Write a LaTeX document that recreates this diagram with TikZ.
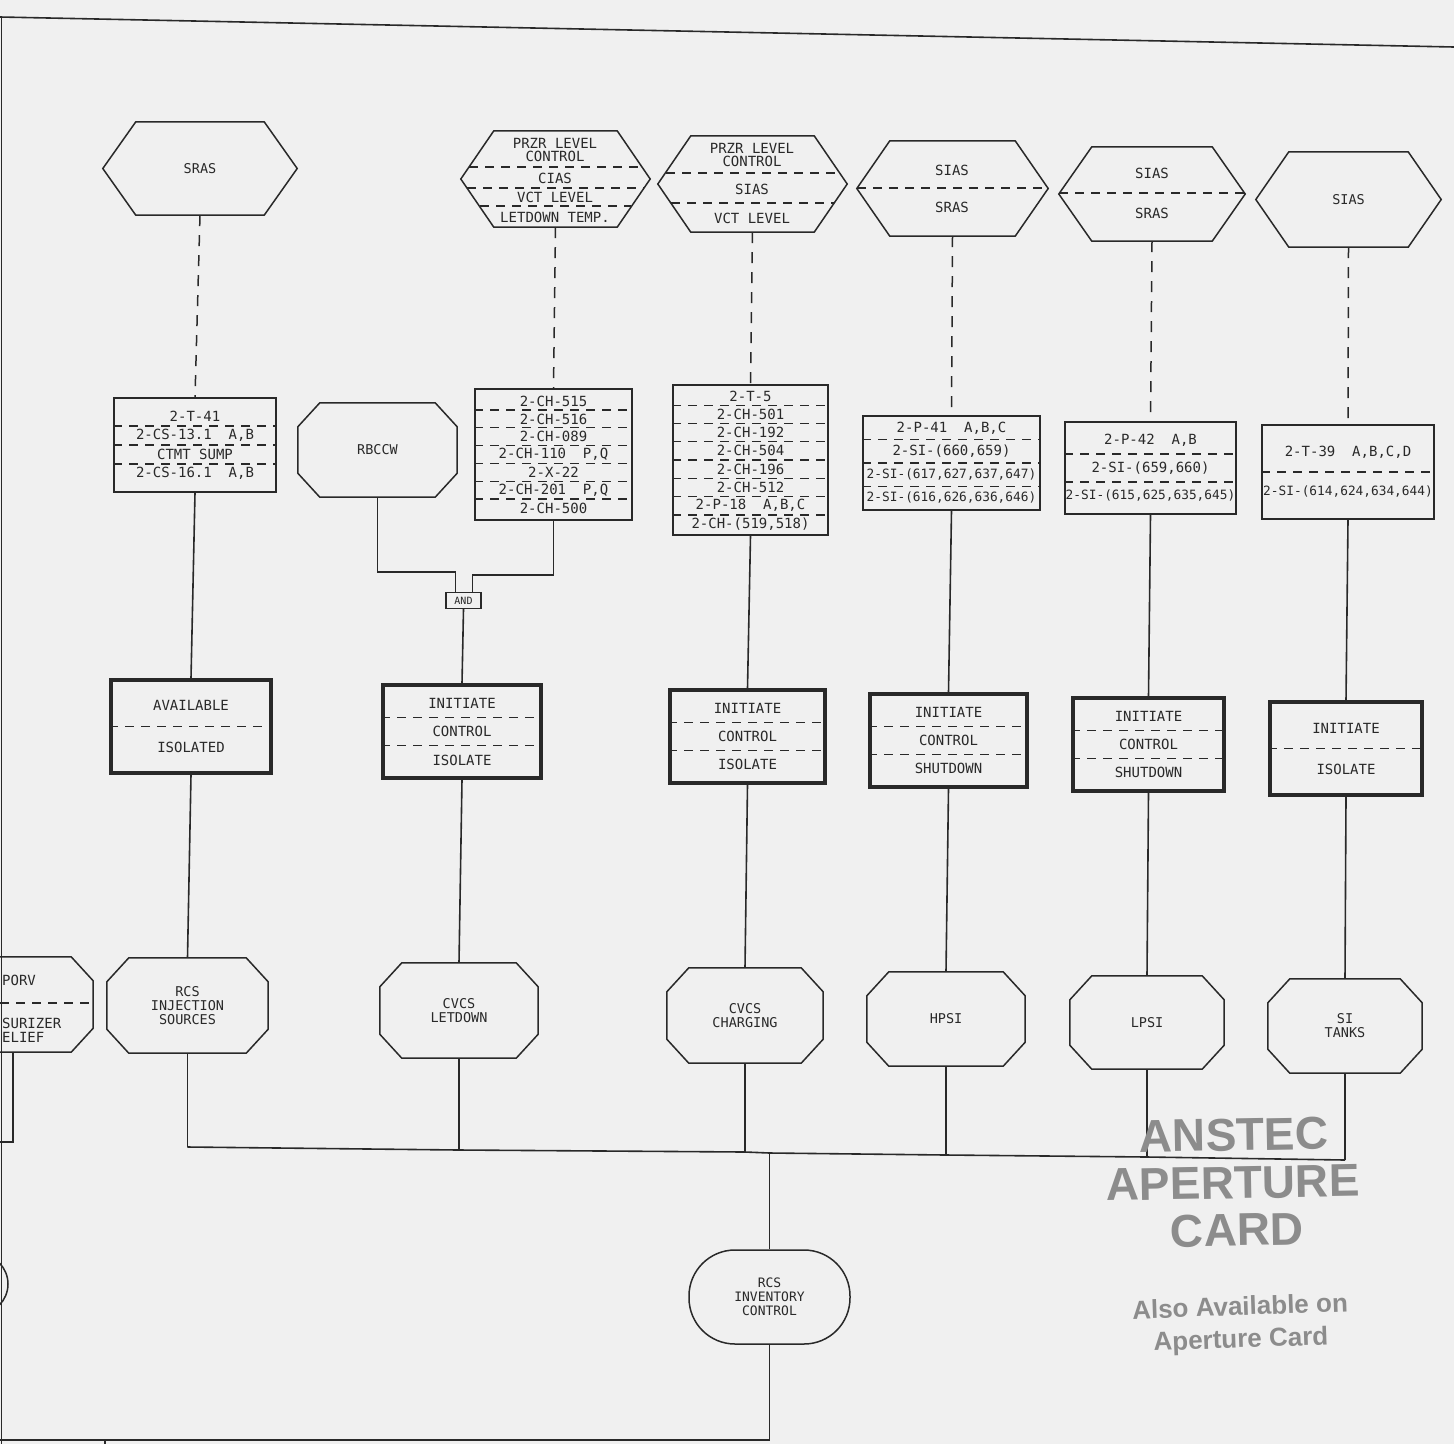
\documentclass[tikz,border=0pt]{standalone}
\usepackage{fontspec}
\setmainfont{Liberation Sans}
\setmonofont{DejaVu Sans Mono}
\usetikzlibrary{calc}
\definecolor{ink}{gray}{0.16}
\definecolor{paper}{gray}{0.94}
\definecolor{wm}{gray}{0.55}
\newcommand\narrowrow{\fontsize{12.8}{13}\selectfont}
\tikzset{
  ln/.style={draw=ink, line width=1.6pt},
  dln/.style={draw=ink, line width=1.5pt, dash pattern=on 11pt off 9pt},
  sepline/.style={draw=ink, line width=1.2pt, dash pattern=on 9pt off 7pt},
  ghost/.style={rectangle, inner sep=0pt, draw=none, font=\ttfamily\fontsize{13.5}{14}\selectfont, text=ink, align=center},
  frame/.style={rectangle, inner sep=0pt, draw=ink, line width=1.5pt},
  thickframe/.style={rectangle, inner sep=0pt, draw=ink, line width=3.2pt},
  lbl/.style={font=\ttfamily\fontsize{14}{13}\selectfont, text=ink, inner sep=0pt, align=center},
  stadium/.style={rectangle, rounded corners=46pt, draw=ink, line width=1.5pt, inner sep=0pt, align=center, font=\ttfamily\fontsize{13}{14}\selectfont, text=ink},
  wmbig/.style={font=\bfseries\fontsize{46}{46}\selectfont, text=wm, inner sep=0pt},
  wmsmall/.style={font=\bfseries\fontsize{26}{26}\selectfont, text=wm, inner sep=0pt},
}
\newcommand\hexout[2]{\draw[ln, line width=1.5pt] (#1.west) -- ([xshift=#2]#1.north west) -- ([xshift=-#2]#1.north east) -- (#1.east) -- ([xshift=-#2]#1.south east) -- ([xshift=#2]#1.south west) -- cycle;}
\newcommand\octout[3]{\draw[ln, line width=1.5pt] ([xshift=#2]#1.north west) -- ([xshift=-#2]#1.north east) -- ([yshift=-#3]#1.north east) -- ([yshift=#3]#1.south east) -- ([xshift=-#2]#1.south east) -- ([xshift=#2]#1.south west) -- ([yshift=#3]#1.south west) -- ([yshift=-#3]#1.north west) -- cycle;}
\newcommand\rowsin[4]{%
  \foreach \lbltext [count=\ri] in {#4}{%
    \node[lbl] (#1-\ri) at ([yshift={-(\ri-(#2+1)/2)*#3}]#1.center) {\lbltext};
  }%
  \pgfmathtruncatemacro\nsep{#2-1}%
  \foreach \k in {1,...,\nsep}{%
    \draw[sepline] ([yshift={-(\k-#2/2)*#3}]#1.west) -- ([yshift={-(\k-#2/2)*#3}]#1.east);
  }%
}
\begin{document}
\begin{tikzpicture}[x=1pt,y=-1pt]
\useasboundingbox (0,0) rectangle (1454,1444);
\fill[paper] (0,0) rectangle (1454,1444);
\clip (0,0) rectangle (1454,1444);

% border
\coordinate (tl) at (0,17);
\coordinate (tr) at (1454,47);
\coordinate (lt) at (1.5,17);
\coordinate (lb) at (1.5,1444);
\draw[ln] (tl) -- (tr);
\draw[ln] (lt) -- (lb);

% top hexagons
\node[ghost, minimum width=194pt, minimum height=93pt] (h1) at (200,168.5) {SRAS};
\hexout{h1}{33}
\node[ghost, minimum width=189pt, minimum height=96pt] (h2) at (555.5,179) {};
\hexout{h2}{33}
\node[lbl] (h2-1) at (555,150) {PRZR LEVEL\\CONTROL};
\node[lbl] (h2-2) at (555,178) {CIAS};
\node[lbl] (h2-3) at (555,197) {VCT LEVEL};
\node[lbl] (h2-4) at (555,217) {LETDOWN TEMP.};
\draw[sepline] (469,167) -- (642,167);
\draw[sepline] (467,188) -- (644,188);
\draw[sepline] (480,206) -- (631,206);
\node[ghost, minimum width=189pt, minimum height=96pt] (h3) at (752.5,184) {};
\hexout{h3}{33}
\node[lbl] (h3-1) at (752,155) {PRZR LEVEL\\CONTROL};
\node[lbl] (h3-2) at (752,189) {SIAS};
\node[lbl] (h3-3) at (752,218) {VCT LEVEL};
\draw[sepline] (666,173) -- (839,173);
\draw[sepline] (671,203) -- (834,203);
\node[ghost, minimum width=191pt, minimum height=95pt] (h4) at (952.5,188.5) {};
\hexout{h4}{33}
\node[lbl] (h4-1) at (952,170) {SIAS};
\node[lbl] (h4-2) at (952,207) {SRAS};
\draw[sepline] (857,188) -- (1048,188);
\node[ghost, minimum width=186pt, minimum height=94pt] (h5) at (1152,194) {};
\hexout{h5}{33}
\node[lbl] (h5-1) at (1152,173) {SIAS};
\node[lbl] (h5-2) at (1152,213) {SRAS};
\draw[sepline] (1059,193) -- (1245,193);
\node[ghost, minimum width=185pt, minimum height=95pt] (h6) at (1348.5,199.5) {SIAS};
\hexout{h6}{33}

% middle component boxes
\node[frame, minimum width=162pt, minimum height=94pt] (b1) at (195,445) {};
\rowsin{b1}{4}{19}{2-T-41,{2-CS-13.1~~A,B},CTMT SUMP,{2-CS-16.1~~A,B}}
\node[ghost, minimum width=159pt, minimum height=94pt] (rb) at (377.5,450) {RBCCW};
\octout{rb}{22}{24}
\node[frame, minimum width=157pt, minimum height=131pt] (b3) at (553.5,454.5) {};
\rowsin{b3}{7}{17.8}{2-CH-515,2-CH-516,2-CH-089,{2-CH-110~~P,Q},2-X-22,{2-CH-201~~P,Q},2-CH-500}
\node[frame, minimum width=155pt, minimum height=150pt] (b4) at (750.5,460) {};
\rowsin{b4}{8}{18.3}{2-T-5,2-CH-501,2-CH-192,2-CH-504,2-CH-196,2-CH-512,{2-P-18~~A,B,C},{2-CH-(519,518)}}
\node[frame, minimum width=177pt, minimum height=94pt] (b5) at (951.5,463) {};
\rowsin{b5}{4}{23.3}{{2-P-41~~A,B,C},{2-SI-(660,659)},{\narrowrow 2-SI-(617,627,637,647)},{\narrowrow 2-SI-(616,626,636,646)}}
\node[frame, minimum width=171pt, minimum height=92pt] (b6) at (1150.5,468) {};
\rowsin{b6}{3}{28}{{2-P-42~~A,B},{2-SI-(659,660)},{\narrowrow 2-SI-(615,625,635,645)}}
\node[frame, minimum width=172pt, minimum height=94pt] (b7) at (1348,472) {};
\rowsin{b7}{2}{39}{{2-T-39~~A,B,C,D},{\narrowrow 2-SI-(614,624,634,644)}}

% AND gate
\node[frame, line width=1.2pt, minimum width=35pt, minimum height=16pt, font=\ttfamily\fontsize{10}{10}\selectfont, text=ink] (and) at (463.5,600.5) {AND};

% action boxes
\node[thickframe, minimum width=160pt, minimum height=93pt] (a1) at (191,726.5) {};
\rowsin{a1}{2}{42}{AVAILABLE,ISOLATED}
\node[thickframe, minimum width=158pt, minimum height=93pt] (a3) at (462,731.5) {};
\rowsin{a3}{3}{28.5}{INITIATE,CONTROL,ISOLATE}
\node[thickframe, minimum width=155pt, minimum height=93pt] (a4) at (747.5,736.5) {};
\rowsin{a4}{3}{28}{INITIATE,CONTROL,ISOLATE}
\node[thickframe, minimum width=157pt, minimum height=93pt] (a5) at (948.5,740.5) {};
\rowsin{a5}{3}{28}{INITIATE,CONTROL,SHUTDOWN}
\node[thickframe, minimum width=151pt, minimum height=93pt] (a6) at (1148.5,744.5) {};
\rowsin{a6}{3}{28}{INITIATE,CONTROL,SHUTDOWN}
\node[thickframe, minimum width=152pt, minimum height=93pt] (a7) at (1346,748.5) {};
\rowsin{a7}{2}{41}{INITIATE,ISOLATE}

% bottom systems
\node[ghost, minimum width=160pt, minimum height=95pt] (porv) at (13,1004.5) {};
\octout{porv}{22}{24}
\node[lbl, anchor=west] (porv-1) at (2,980) {PORV};
\node[lbl, anchor=west] (porv-2) at (2,1023) {SURIZER};
\node[lbl, anchor=west] (porv-3) at (2,1037) {ELIEF};
\draw[sepline] (0,1003) -- (90,1003);
\node[ghost, minimum width=161pt, minimum height=95pt] (o1) at (187.5,1005.5) {RCS\\INJECTION\\SOURCES};
\octout{o1}{22}{24}
\node[ghost, minimum width=158pt, minimum height=95pt] (o3) at (459,1010.5) {CVCS\\LETDOWN};
\octout{o3}{22}{24}
\node[ghost, minimum width=156pt, minimum height=95pt] (o4) at (745,1015.5) {CVCS\\CHARGING};
\octout{o4}{22}{24}
\node[ghost, minimum width=158pt, minimum height=94pt] (o5) at (946,1019) {HPSI};
\octout{o5}{22}{24}
\node[ghost, minimum width=154pt, minimum height=93pt] (o6) at (1147,1022.5) {LPSI};
\octout{o6}{22}{24}
\node[ghost, minimum width=154pt, minimum height=94pt] (o7) at (1345,1026) {SI\\TANKS};
\octout{o7}{22}{24}

\node[stadium, minimum width=161pt, minimum height=94pt] (rcs) at (769.5,1297) {RCS\\INVENTORY\\CONTROL};

% partial node at left edge
\node[ghost, circle, minimum size=60pt] (lc) at (-22,1284) {};
\draw[ln, line width=1.5pt] (lc) circle[radius=30pt];

% dashed signal connectors
\draw[dln] (h1.south) -- (b1.north);
\draw[dln] (h2.south) -- (b3.north);
\draw[dln] (h3.south) -- (b4.north);
\draw[dln] (h4.south) -- (b5.north);
\draw[dln] (h5.south) -- (b6.north);
\draw[dln] (h6.south) -- (b7.north);

% AND logic
\draw[ln] (rb.south) |- ([xshift=-8pt,yshift=20pt]and.north) -- ([xshift=-8pt]and.north);
\draw[ln] (b3.south) |- ([xshift=9pt,yshift=17pt]and.north) -- ([xshift=9pt]and.north);
\draw[ln] (and.south) -- (a3.north);

% components to actions
\draw[ln] (b1.south) -- (a1.north);
\draw[ln] (b4.south) -- (a4.north);
\draw[ln] (b5.south) -- (a5.north);
\draw[ln] (b6.south) -- (a6.north);
\draw[ln] (b7.south) -- (a7.north);

% actions to systems
\draw[ln] (a1.south) -- (o1.north);
\draw[ln] (a3.south) -- (o3.north);
\draw[ln] (a4.south) -- (o4.north);
\draw[ln] (a5.south) -- (o5.north);
\draw[ln] (a6.south) -- (o6.north);
\draw[ln] (a7.south) -- (o7.north);

% bus
\coordinate (j1) at (o1.south |- 0,1147);
\coordinate (j3) at (o3.south |- 0,1150);
\coordinate (j4) at (o4.south |- 0,1152);
\coordinate (jc) at (rcs.north |- 0,1153);
\coordinate (j5) at (o5.south |- 0,1155);
\coordinate (j6) at (o6.south |- 0,1157);
\coordinate (j7) at (o7.south |- 0,1160);
\draw[ln] (j1) -- (j3) -- (j4) -- (jc) -- (j5) -- (j6) -- (j7);
\draw[ln] (o1.south) -- (j1);
\draw[ln] (o3.south) -- (j3);
\draw[ln] (o4.south) -- (j4);
\draw[ln] (o5.south) -- (j5);
\draw[ln] (o6.south) -- (j6);
\draw[ln] (o7.south) -- (j7);
\draw[ln] (jc) -- (rcs.north);

% outputs
\coordinate (bl) at (0,1440);
\draw[ln] (rcs.south) |- (bl);
\coordinate (tk1) at (105,1440);
\coordinate (tk2) at (105,1444);
\draw[ln] (tk1) -- (tk2);
\coordinate (pl) at (0,1142);
\draw[ln] (porv.south) |- (pl);

% aperture card stamp
\node[wmbig, rotate=1] (wm1) at (1234,1135) {ANSTEC};
\node[wmbig, rotate=1] (wm2) at (1233,1183) {APERTURE};
\node[wmbig, rotate=1] (wm3) at (1237,1230) {CARD};
\node[wmsmall, rotate=2] (wm4) at (1240,1306) {Also Available on};
\node[wmsmall, rotate=2] (wm5) at (1241,1341) {Aperture Card};
\end{tikzpicture}
\end{document}
